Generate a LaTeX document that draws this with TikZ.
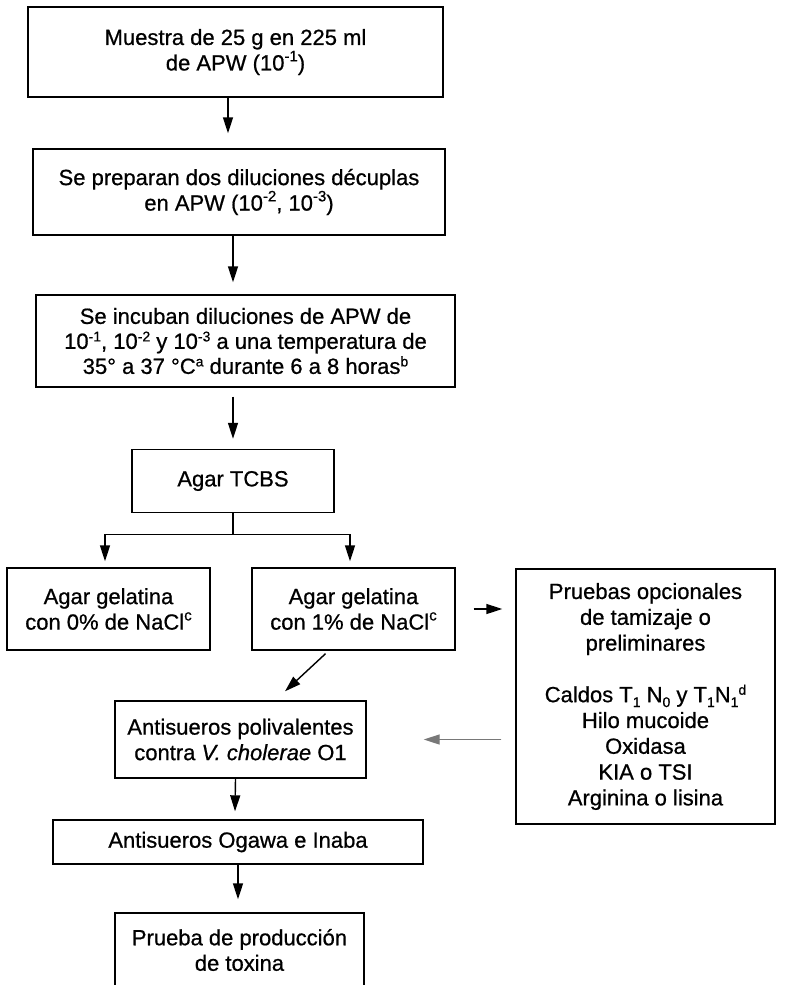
\documentclass[tikz,border=0pt]{standalone}
\usepackage{fontspec}
\setmainfont{Liberation Sans}[FakeBold=0.7]
\usetikzlibrary{arrows.meta}
\newcommand{\supx}[1]{\raisebox{0.42em}{\fontsize{15}{15}\selectfont #1}}
\newcommand{\supy}[1]{\raisebox{0.34em}{\fontsize{14}{14}\selectfont #1}}
\newcommand{\subx}[1]{\raisebox{-0.22em}{\fontsize{14}{14}\selectfont #1}}
\begin{document}
\begin{tikzpicture}[x=1pt,y=-1pt,
  box/.style={draw, line width=1.4pt, inner sep=0pt, align=center,
    font=\fontsize{22}{25.5}\selectfont},
  arr/.style={line width=1.4pt, -{Triangle[length=16pt,width=10pt]}},
  ln/.style={line width=1.4pt}]
\useasboundingbox (0,0) rectangle (792,985);
\fill[white] (0,0) rectangle (792,985);
\node[box, minimum width=415pt, minimum height=90pt] (b1) at (235.5,52)
  {Muestra de 25 g en 225 ml\\de APW (10\supx{-1})};
\node[box, minimum width=412pt, minimum height=86pt] (b2) at (239,192)
  {Se preparan dos diluciones décuplas\\en APW (10\supx{-2}, 10\supx{-3})};
\node[box, minimum width=419pt, minimum height=92pt, font=\fontsize{22}{25}\selectfont] (b3) at (245.5,341)
  {Se incuban diluciones de APW de\\10\supy{-1}, 10\supy{-2} y 10\supy{-3} a una temperatura de\\35° a 37 °C\supy{a} durante 6 a 8 horas\supy{b}};
\node[box, minimum width=202pt, minimum height=63pt] (tc) at (233,481) {Agar TCBS};
\node[box, minimum width=203pt, minimum height=82pt] (a0) at (108.5,609)
  {Agar gelatina\\con 0\% de NaCl\supx{c}};
\node[box, minimum width=203pt, minimum height=82pt] (a1) at (353.5,609)
  {Agar gelatina\\con 1\% de NaCl\supx{c}};
\node[box, minimum width=259pt, minimum height=255pt, font=\fontsize{22}{25.8}\selectfont] (pr) at (645.5,696.5)
  {Pruebas opcionales\\de tamizaje o\\preliminares\\[25.8pt]
   Caldos T\subx{1} N\subx{0} y T\subx{1}N\subx{1}\supy{d}\\Hilo mucoide\\Oxidasa\\KIA o TSI\\Arginina o lisina};
\node[box, minimum width=251pt, minimum height=77pt] (po) at (240.5,739.5)
  {Antisueros polivalentes\\contra \textit{V. cholerae} O1};
\node[box, minimum width=370pt, minimum height=44pt] (og) at (238,842)
  {Antisueros Ogawa e Inaba};
\node[box, minimum width=249pt, minimum height=74pt] (tx) at (239.5,950)
  {Prueba de producción\\de toxina};
% connectors
\draw[arr] ([xshift=-7.5pt]b1.south) -- ([xshift=-11pt,yshift=15pt]b2.north);
\draw[arr] ([xshift=-6pt]b2.south) -- ([xshift=-12.5pt,yshift=12pt]b3.north);
\draw[arr] ([xshift=-12.5pt,yshift=-9pt]b3.south) -- ([yshift=10pt]tc.north);
\draw[ln] (tc.south) -- ++(0,21) coordinate (br);
\draw[ln] ([xshift=-3.5pt]a0.north |- br) -- ([xshift=-3.5pt]a1.north |- br);
\draw[arr] ([xshift=-3.5pt]a0.north |- br) -- ([xshift=-3.5pt,yshift=6pt]a0.north);
\draw[arr] ([xshift=-3.5pt]a1.north |- br) -- ([xshift=-3.5pt,yshift=6pt]a1.north);
\draw[arr] ([xshift=18pt]a1.east) -- ([xshift=-13pt]pr.west |- a1.east);
\draw[arr] ([xshift=-28pt,yshift=-3pt]a1.south) -- ([xshift=44.5pt,yshift=9pt]po.north);
\draw[arr, draw={rgb,255:red,120;green,120;blue,120}, fill={rgb,255:red,120;green,120;blue,120}]
  ([xshift=-14pt]pr.west |- po.east) -- ([xshift=57pt]po.east);
\draw[arr] ([xshift=-5pt]po.south) -- ([xshift=-3pt,yshift=8pt]og.north);
\draw[arr] (og.south) -- ([xshift=-1.5pt,yshift=13pt]tx.north);
\end{tikzpicture}
\end{document}
